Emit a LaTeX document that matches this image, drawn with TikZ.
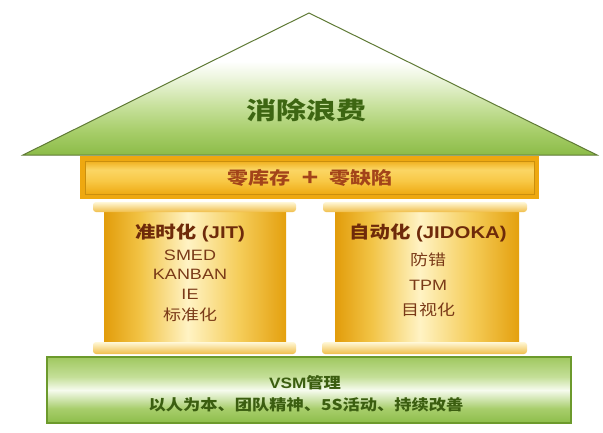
\documentclass[tikz,border=0pt]{standalone}
\usepackage{fontspec}
\usepackage{graphicx}
\setmainfont{Liberation Sans}
\newfontfamily\cjk{Noto Sans CJK SC}
\newfontfamily\lat{Liberation Sans}
\definecolor{roofline}{HTML}{5F7A35}
\definecolor{titlegreen}{HTML}{3D6612}
\definecolor{gold}{HTML}{EEA810}
\definecolor{beamtext}{HTML}{A3441A}
\definecolor{captop}{HTML}{FFF8D8}
\definecolor{capbot}{HTML}{F0BE4A}
\definecolor{pillartitle}{HTML}{6E2A0A}
\definecolor{pillaritem}{HTML}{7A3A18}
\definecolor{baseline}{HTML}{6C9A2C}
\definecolor{basetext}{HTML}{3B5E10}
\pgfdeclareverticalshading{roofshade}{100bp}{color(0bp)=(rgb,255:red,140;green,188;blue,72); color(25bp)=(rgb,255:red,140;green,188;blue,72); color(33bp)=(rgb,255:red,166;green,205;blue,104); color(42bp)=(rgb,255:red,198;green,224;blue,154); color(52bp)=(rgb,255:red,236;green,245;blue,220); color(58bp)=(white); color(100bp)=(white)}
\pgfdeclareverticalshading{baseshade}{100bp}{color(0bp)=(rgb,255:red,141;green,189;blue,74); color(25bp)=(rgb,255:red,141;green,189;blue,74); color(36bp)=(rgb,255:red,168;green,206;blue,108); color(50bp)=(rgb,255:red,246;green,251;blue,238); color(60bp)=(rgb,255:red,196;green,223;blue,152); color(75bp)=(rgb,255:red,160;green,200;blue,96); color(100bp)=(rgb,255:red,160;green,200;blue,96)}
\pgfdeclarehorizontalshading{shaftshade}{100bp}{color(0bp)=(rgb,255:red,226;green,156;blue,10); color(25bp)=(rgb,255:red,226;green,156;blue,10); color(35bp)=(rgb,255:red,242;green,196;blue,70); color(48bp)=(rgb,255:red,255;green,243;blue,196); color(62bp)=(rgb,255:red,245;green,205;blue,90); color(75bp)=(rgb,255:red,228;green,160;blue,14); color(100bp)=(rgb,255:red,228;green,160;blue,14)}
\pgfdeclareverticalshading{beamshade}{100bp}{color(0bp)=(rgb,255:red,238;green,170;blue,18); color(25bp)=(rgb,255:red,238;green,170;blue,18); color(45bp)=(rgb,255:red,248;green,200;blue,70); color(62bp)=(rgb,255:red,251;green,214;blue,100); color(75bp)=(rgb,255:red,240;green,176;blue,30); color(100bp)=(rgb,255:red,240;green,176;blue,30)}
\tikzset{
  roofshape/.style={draw=roofline, line width=1pt, line join=miter, shading=roofshade},
  beamouter/.style={fill=gold, draw=none},
  beaminner/.style={shading=beamshade, draw={gold!85!black}, line width=0.6pt},
  capstyle/.style={top color=captop, bottom color=capbot, draw=none, rounded corners=3pt},
  shaftstyle/.style={shading=shaftshade, draw=none},
  basestyle/.style={draw=baseline, line width=1.2pt, shading=baseshade},
  roottext/.style={text=titlegreen, font=\cjk\bfseries\fontsize{24}{26}\selectfont, inner sep=0pt},
  beamtxt/.style={text=beamtext, font=\cjk\bfseries\fontsize{17.5}{19}\selectfont, inner sep=0pt},
  ptitle/.style={text=pillartitle, font=\bfseries\fontsize{17}{19}\selectfont, inner sep=0pt},
  pitem/.style={text=pillaritem, font=\fontsize{15}{17}\selectfont, inner sep=0pt},
  btxt/.style={text=basetext, font=\bfseries\fontsize{15}{17}\selectfont, inner sep=0pt}
}
\begin{document}
\begin{tikzpicture}[x=1pt, y=-1pt]
\useasboundingbox (0,0) rectangle (603,432);
\fill[white] (0,0) rectangle (603,432);
% roof
\path[roofshape] (23,155) -- (309,13) -- (597,155) -- cycle;
\node[roottext] (roof) at (306,110) {\scalebox{1.25}[1]{消除浪费}};
% beam
\fill[beamouter] (80,156) rectangle (539,199);
\path[beaminner] (85,161) rectangle (534,194);
\node[beamtxt] (beam) at (310,178) {\scalebox{1.2}[1]{零库存\hspace{0.55em}\raisebox{-1pt}{\lat\bfseries\fontsize{24}{24}\selectfont +}\hspace{0.55em}零缺陷}};
% left pillar
\path[shaftstyle] (104,210) rectangle (286,343);
\path[capstyle] (93,202) rectangle (296,212);
\path[capstyle] (93,342) rectangle (296,354);
% right pillar
\path[shaftstyle] (335,210) rectangle (519,343);
\path[capstyle] (323,202) rectangle (527,212);
\path[capstyle] (322,342) rectangle (527,354);
% left pillar text
\node[ptitle] (jit) at (190,233) {\scalebox{1.2}[1]{{\cjk\bfseries 准时化} (JIT)}};
\node[pitem] (smed) at (190,255) {\scalebox{1.2}[1]{SMED}};
\node[pitem] (kanban) at (190,274) {\scalebox{1.2}[1]{KANBAN}};
\node[pitem] (ie) at (190,294) {\scalebox{1.2}[1]{IE}};
\node[pitem] (std) at (190,315) {\scalebox{1.2}[1]{\cjk 标准化}};
% right pillar text
\node[ptitle] (jidoka) at (428,233) {\scalebox{1.2}[1]{{\cjk\bfseries 自动化} (JIDOKA)}};
\node[pitem] (fc) at (428,260) {\scalebox{1.2}[1]{\cjk 防错}};
\node[pitem] (tpm) at (428,285) {\scalebox{1.2}[1]{TPM}};
\node[pitem] (visual) at (428,310) {\scalebox{1.2}[1]{\cjk 目视化}};
% base
\path[basestyle] (47,357) rectangle (571,423);
\node[btxt] (vsm) at (305,383) {\scalebox{1.15}[1]{VSM{\cjk\bfseries 管理}}};
\node[btxt] (people) at (306,405) {\scalebox{1.15}[1]{\cjk\bfseries 以人为本、团队精神、5S活动、持续改善}};
\end{tikzpicture}
\end{document}
